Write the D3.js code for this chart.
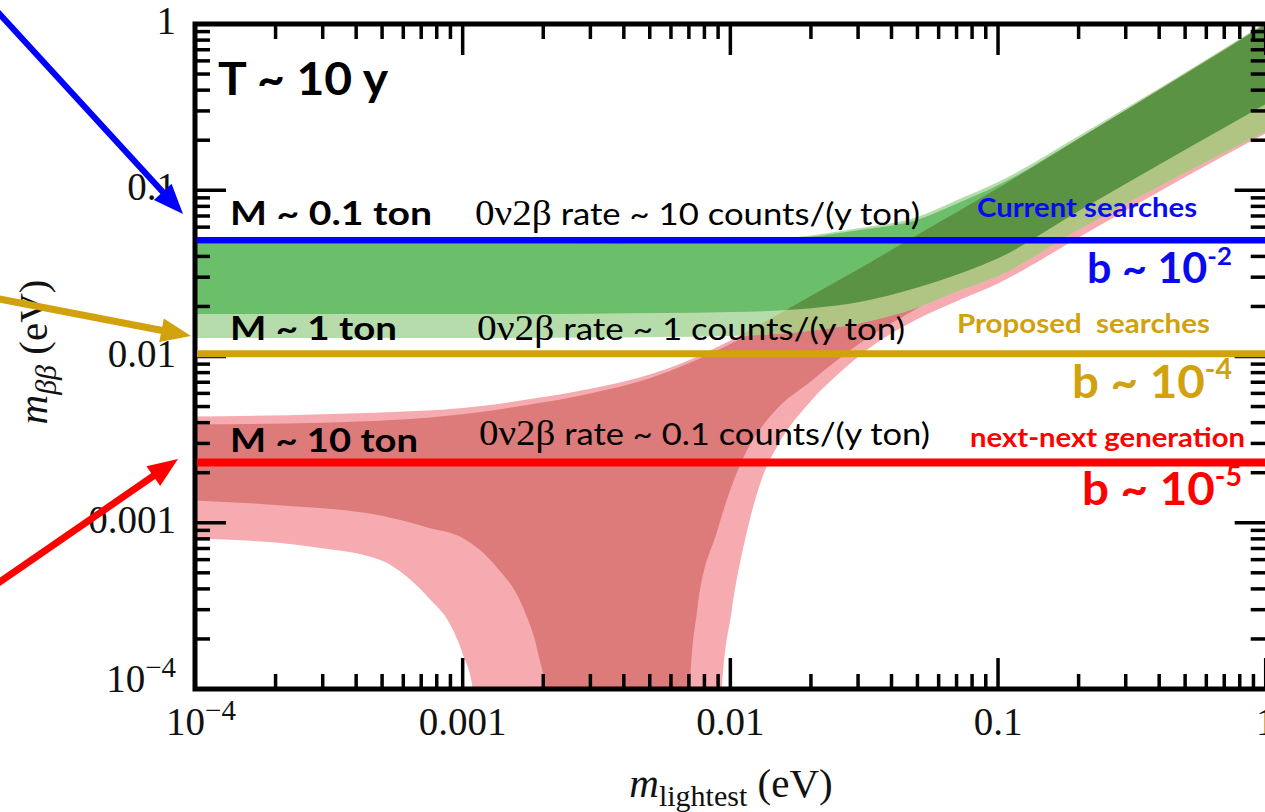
<!DOCTYPE html>
<html><head><meta charset="utf-8">
<script src="https://cdn.jsdelivr.net/npm/d3@7"></script>
<style>body{margin:0;background:#fff} svg{display:block} text{white-space:pre}</style>
</head><body><svg id="c" width="1265" height="812"></svg>
<script>
// ---------- data ----------
const axisTicks = [1e-4, 1e-3, 1e-2, 1e-1, 1];
const tickLabels = ["10^-4", "0.001", "0.01", "0.1", "1"];

// Normal ordering, 3 sigma band [m_lightest, m_bb]
const noOuterUpper = [[1e-4,0.00435],[3e-4,0.0045],[1e-3,0.0049],[2e-3,0.0057],[3e-3,0.0064],[5e-3,0.0078],[7e-3,0.0095],[1e-2,0.0125],[2e-2,0.0232],[3e-2,0.0335],[5e-2,0.054],[0.1,0.103],[0.2,0.204],[0.5,0.505],[1,1.01]];
const noOuterLower = [[1e-4,0.0008],[2e-4,0.00076],[2.86e-4,0.00071],[5e-4,0.00059],[5.83e-4,0.00051],[7.5e-4,0.00035],[8.96e-4,0.000246],[1e-3,0.000163],[1.09e-3,0.0001],[1.13e-3,1e-5],[9.1e-3,1e-5],[9.3e-3,0.0001],[1.01e-2,0.00029],[1.16e-2,0.00092],[1.32e-2,0.0019],[1.5e-2,0.0029],[2e-2,0.0054],[2.5e-2,0.0077],[3.3e-2,0.0112],[5e-2,0.0168],[7e-2,0.0215],[0.1,0.0275],[0.2,0.052],[0.5,0.12],[1,0.22]];
// Normal ordering, best-fit band
const noInnerUpper = [[1e-4,0.0039],[3e-4,0.004],[1e-3,0.0045],[2e-3,0.0053],[3e-3,0.006],[5e-3,0.0074],[7e-3,0.0091],[1e-2,0.0119],[2e-2,0.0224],[3e-2,0.0327],[5e-2,0.053],[0.1,0.101],[0.2,0.2],[0.5,0.5],[1,1.0]];
const noInnerLower = [[1e-4,0.00136],[2e-4,0.00128],[5e-4,0.0011],[7.5e-4,0.00093],[1e-3,0.00081],[1.34e-3,0.00054],[1.68e-3,0.00031],[1.94e-3,0.00015],[2.03e-3,0.0001],[2.1e-3,1e-5],[6.9e-3,1e-5],[7.06e-3,0.0001],[7.5e-3,0.00029],[8.95e-3,0.0009],[1.03e-2,0.0018],[1.15e-2,0.0027],[1.45e-2,0.0046],[2e-2,0.0071],[3e-2,0.0118],[5e-2,0.0195],[7e-2,0.026],[0.1,0.034],[0.2,0.066],[0.5,0.16],[1,0.32]];
// Inverted ordering, 3 sigma band
const ioOuterUpper = [[1e-4,0.0485],[1e-3,0.0485],[3e-3,0.0487],[1e-2,0.0497],[2e-2,0.0535],[3e-2,0.059],[5e-2,0.069],[7e-2,0.087],[0.1,0.112],[0.2,0.212],[0.5,0.51],[1,1.02]];
const ioOuterLower = [[1e-4,0.0129],[1e-3,0.0129],[3e-3,0.013],[1e-2,0.0133],[2e-2,0.0143],[3e-2,0.0158],[5e-2,0.0197],[7e-2,0.0246],[0.1,0.0305],[0.2,0.058],[0.5,0.128],[1,0.226]];
// Inverted ordering, best-fit band
const ioInnerUpper = [[1e-4,0.0478],[1e-3,0.0478],[3e-3,0.048],[1e-2,0.049],[2e-2,0.0525],[3e-2,0.0575],[5e-2,0.0665],[7e-2,0.083],[0.1,0.107],[0.2,0.205],[0.5,0.5],[1,1.0]];
const ioInnerLower = [[1e-4,0.018],[1e-3,0.018],[3e-3,0.0181],[1e-2,0.0185],[2e-2,0.0195],[3e-2,0.0212],[5e-2,0.026],[7e-2,0.031],[0.1,0.039],[0.2,0.075],[0.5,0.175],[1,0.33]];

// sensitivity lines (m_bb values)
const sensitivityValues = [0.05, 0.0104, 0.0023];
const sensitivityColors = ["#0000ff", "#d1a10e", "#ff0000"];

// ---------- layout ----------
const svg = d3.select("#c");
const L = 195, R = 1265.7, T = 24, B = 689;
const x = d3.scaleLog().domain([1e-4, 1]).range([L, R]);
const y = d3.scaleLog().domain([1e-4, 1]).range([B, T]);
const SANS = "Lato, 'Open Sans', sans-serif";
const SERIF = "'Liberation Serif', 'DejaVu Serif', serif";

svg.append("rect").attr("width",1265).attr("height",812).attr("fill","#fff");
const defs = svg.append("defs");
defs.append("clipPath").attr("id","plotClip").append("rect")
  .attr("x",L).attr("y",T).attr("width",R-L+5).attr("height",B-T);

const lineGen = d3.line().x(d=>x(d[0])).y(d=>y(d[1])).curve(d3.curveMonotoneX);
function bandPath(upper, lower){
  return lineGen(upper) + lineGen(lower.slice().reverse()).replace(/^M/,"L") + "Z";
}
defs.append("clipPath").attr("id","noClip").append("path").attr("d", bandPath(noOuterUpper, noOuterLower));

const g = svg.append("g").attr("clip-path","url(#plotClip)");
g.append("path").attr("d", bandPath(noOuterUpper, noOuterLower)).attr("fill","#f5abb0");
g.append("path").attr("d", bandPath(noInnerUpper, noInnerLower)).attr("fill","#dd7a7a");
g.append("path").attr("d", bandPath(ioOuterUpper, ioOuterLower)).attr("fill","#b6dcab");
g.append("path").attr("d", bandPath(ioInnerUpper, ioInnerLower)).attr("fill","#6bbe6a");
const ov = g.append("g").attr("clip-path","url(#noClip)");
ov.append("path").attr("d", bandPath(ioOuterUpper, ioOuterLower)).attr("fill","#b0c483");
ov.append("path").attr("d", bandPath(ioInnerUpper, ioInnerLower)).attr("fill","#5b9344");

// ---------- axes: frame and ticks on four sides ----------
const ax = svg.append("g").attr("stroke","#000");
const isMajor = t => Math.abs(Math.log10(t) - Math.round(Math.log10(t))) < 1e-9;
const MAJ = 31, MIN = 15;
x.ticks().forEach(t=>{
  const len = isMajor(t) ? MAJ : MIN, px = x(t);
  ax.append("line").attr("x1",px).attr("x2",px).attr("y1",B).attr("y2",B-len).attr("stroke-width",3.5);
  ax.append("line").attr("x1",px).attr("x2",px).attr("y1",T).attr("y2",T+len).attr("stroke-width",3.5);
});
y.ticks().forEach(t=>{
  const len = isMajor(t) ? MAJ : MIN, py = y(t);
  ax.append("line").attr("x1",L).attr("x2",L+len).attr("y1",py).attr("y2",py).attr("stroke-width",3.5);
  ax.append("line").attr("x1",R).attr("x2",R-len).attr("y1",py).attr("y2",py).attr("stroke-width",3.5);
});
ax.append("path").attr("d",`M${R+3},${T}H${L}V${B}H${R+3}V${T}`).attr("fill","none").attr("stroke-width",5);

// tick labels
function addTickLabel(sel, label, small){
  if (label.includes("^")) {
    const [b, e] = label.split("^");
    sel.append("tspan").text(b);
    sel.append("tspan").attr("dy",-15).attr("font-size",small).text(e.replace("-","\u2212"));
  } else sel.text(label);
}
axisTicks.forEach((t,i)=>{
  const tx = svg.append("text").attr("x", x(t) + (i===0?6:0)).attr("y",735)
    .attr("text-anchor","middle").attr("font-family",SERIF).attr("font-size",39).attr("fill","#111");
  addTickLabel(tx, tickLabels[i], 29);
  const ty = svg.append("text").attr("x",176).attr("y", y(t) + (i===0?3:10))
    .attr("text-anchor","end").attr("font-family",SERIF).attr("font-size",39).attr("fill","#111");
  addTickLabel(ty, tickLabels[i], 29);
});

// axis titles
const xt = svg.append("text").attr("x",731).attr("y",797).attr("text-anchor","middle")
  .attr("font-family",SERIF).attr("font-size",41).attr("fill","#111");
xt.append("tspan").attr("font-style","italic").text("m");
xt.append("tspan").attr("font-size",30).attr("dy",9).text("lightest");
xt.append("tspan").attr("dy",-9).text(" (eV)");
const yt = svg.append("text").attr("transform","translate(47,352) rotate(-90)").attr("text-anchor","middle")
  .attr("font-family",SERIF).attr("font-size",41).attr("fill","#111");
yt.append("tspan").attr("font-style","italic").text("m");
yt.append("tspan").attr("font-size",30).attr("font-style","italic").attr("dy",9).text("ββ");
yt.append("tspan").attr("dy",-9).text(" (eV)");

// ---------- sensitivity lines ----------
const lw = [6.5, 7, 8];
sensitivityValues.forEach((v,i)=>{
  svg.append("line").attr("x1",L+2).attr("x2",1265).attr("y1",y(v)).attr("y2",y(v))
    .attr("stroke",sensitivityColors[i]).attr("stroke-width",lw[i]);
});

// ---------- arrows ----------
function arrow(x0,y0,x1,y1,color,w,hl,hw){
  const dx=x1-x0, dy=y1-y0, d=Math.hypot(dx,dy), ux=dx/d, uy=dy/d;
  const bx=x1-ux*hl, by=y1-uy*hl;
  svg.append("line").attr("x1",x0).attr("y1",y0).attr("x2",bx+ux*2).attr("y2",by+uy*2)
    .attr("stroke",color).attr("stroke-width",w);
  svg.append("path").attr("d",`M${x1},${y1}L${bx-uy*hw/2},${by+ux*hw/2}L${bx+uy*hw/2},${by-ux*hw/2}Z`).attr("fill",color);
}
arrow(-6,8,183,214,"#0000ff",6,30,24);
arrow(-6,298,191,336,"#d1a10e",7,30,24);
arrow(-6,586,178,459,"#ff0000",7,30,24);

// ---------- annotations ----------
function txt(xp,yp,s,size,weight,color,len){
  return svg.append("text").attr("x",xp).attr("y",yp).attr("font-family",SANS).attr("font-size",size)
    .attr("font-weight",weight).attr("fill",color)
    .attr("textLength",len).attr("lengthAdjust","spacingAndGlyphs").text(s);
}
txt(218,95,"T ~ 10 y",46,700,"#000",170);
txt(230,225,"M ~ 0.1 ton",33,700,"#000",202);
txt(230,340,"M ~ 1 ton",33,700,"#000",167);
txt(230,452,"M ~ 10 ton",33,700,"#000",188);
const rates = ["10","1","0.1"], rateY = [225,340,445], rateX = [475,477,479], rateLen = [445,428,451];
rates.forEach((r,i)=>{
  const t = svg.append("text").attr("x",rateX[i]).attr("y",rateY[i]).attr("fill","#000")
    .attr("textLength",rateLen[i]).attr("lengthAdjust","spacingAndGlyphs");
  t.append("tspan").attr("font-family",SERIF).attr("font-size",35).text("0ν2β");
  t.append("tspan").attr("font-family",SANS).attr("font-size",31).text(` rate ~ ${r} counts/(y ton)`);
});
txt(977,217,"Current searches",26,700,"#0a0af0",220);
txt(957,333,"Proposed  searches",27,700,"#d1a10e",253);
txt(970,447,"next-next generation",27,700,"#ff0000",275);
function bText(xl,yb,exp,size,color,len){
  const t = svg.append("text").attr("x",xl).attr("y",yb)
    .attr("font-family",SANS).attr("font-weight",700).attr("font-size",size).attr("fill",color)
    .attr("textLength",len).attr("lengthAdjust","spacingAndGlyphs");
  t.append("tspan").text("b ~ 10");
  t.append("tspan").attr("dy",-size*0.42).attr("font-size",size*0.6).text(exp);
}
bText(1087,283,"-2",42,"#0a0af0",145);
bText(1072,398,"-4",46,"#d1a10e",160);
bText(1082,505,"-5",46,"#ff0000",160);
</script></body></html>
